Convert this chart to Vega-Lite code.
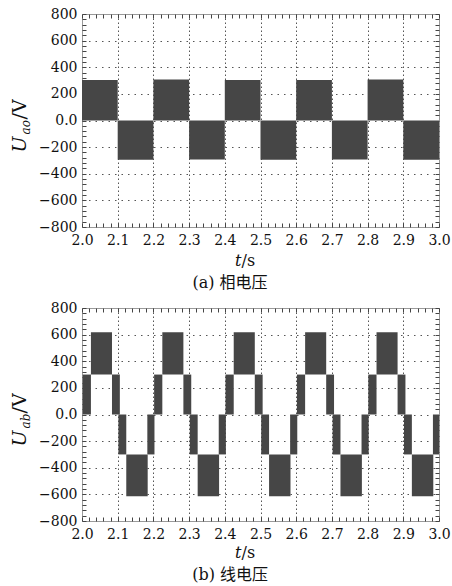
{
  "$schema": "https://vega.github.io/schema/vega-lite/v6.json",
  "padding": {"left": 9, "top": 6, "right": 0, "bottom": 0},
  "spacing": 8,
  "config": {
    "font": "DejaVu Serif",
    "view": {"stroke": "#9a9a9a", "strokeWidth": 1},
    "axis": {
      "labelFont": "DejaVu Serif", "labelFontSize": 14, "labelColor": "#111",
      "titleFont": "DejaVu Serif", "titleFontSize": 16, "titleColor": "#111", "titleFontWeight": "normal",
      "domain": false, "ticks": false, "grid": false, "labels": false,
      "tickColor": "#444", "tickSize": -4, "tickWidth": 1, "gridColor": "#555", "gridWidth": 1
    },
    "title": {"font": "DejaVu Serif, Noto Sans CJK SC", "fontSize": 16, "fontWeight": "normal", "color": "#111", "orient": "bottom", "anchor": "middle", "frame": "bounds", "offset": 7}
  },
  "datasets": {
    "phase": [
      {"t0": 2.0, "t1": 2.1, "v0": 0, "v1": 305},
      {"t0": 2.1, "t1": 2.2, "v0": -295, "v1": 0},
      {"t0": 2.2, "t1": 2.3, "v0": 0, "v1": 308},
      {"t0": 2.3, "t1": 2.4, "v0": -293, "v1": 0},
      {"t0": 2.4, "t1": 2.5, "v0": 0, "v1": 305},
      {"t0": 2.5, "t1": 2.6, "v0": -295, "v1": 0},
      {"t0": 2.6, "t1": 2.7, "v0": 0, "v1": 305},
      {"t0": 2.7, "t1": 2.8, "v0": -293, "v1": 0},
      {"t0": 2.8, "t1": 2.9, "v0": 0, "v1": 308},
      {"t0": 2.9, "t1": 3.0, "v0": -295, "v1": 0}
    ],
    "line": [
      {"t0": 2.002, "t1": 2.025, "v0": 0, "v1": 300},
      {"t0": 2.025, "t1": 2.084, "v0": 300, "v1": 618},
      {"t0": 2.084, "t1": 2.106, "v0": 0, "v1": 300},
      {"t0": 2.102, "t1": 2.124, "v0": -300, "v1": 0},
      {"t0": 2.124, "t1": 2.184, "v0": -615, "v1": -300},
      {"t0": 2.183, "t1": 2.203, "v0": -300, "v1": 0},
      {"t0": 2.202, "t1": 2.225, "v0": 0, "v1": 300},
      {"t0": 2.225, "t1": 2.284, "v0": 300, "v1": 618},
      {"t0": 2.284, "t1": 2.306, "v0": 0, "v1": 300},
      {"t0": 2.302, "t1": 2.324, "v0": -300, "v1": 0},
      {"t0": 2.324, "t1": 2.384, "v0": -615, "v1": -300},
      {"t0": 2.383, "t1": 2.403, "v0": -300, "v1": 0},
      {"t0": 2.402, "t1": 2.425, "v0": 0, "v1": 300},
      {"t0": 2.425, "t1": 2.484, "v0": 300, "v1": 618},
      {"t0": 2.484, "t1": 2.506, "v0": 0, "v1": 300},
      {"t0": 2.502, "t1": 2.524, "v0": -300, "v1": 0},
      {"t0": 2.524, "t1": 2.584, "v0": -615, "v1": -300},
      {"t0": 2.583, "t1": 2.603, "v0": -300, "v1": 0},
      {"t0": 2.602, "t1": 2.625, "v0": 0, "v1": 300},
      {"t0": 2.625, "t1": 2.684, "v0": 300, "v1": 618},
      {"t0": 2.684, "t1": 2.706, "v0": 0, "v1": 300},
      {"t0": 2.702, "t1": 2.724, "v0": -300, "v1": 0},
      {"t0": 2.724, "t1": 2.784, "v0": -615, "v1": -300},
      {"t0": 2.783, "t1": 2.803, "v0": -300, "v1": 0},
      {"t0": 2.802, "t1": 2.825, "v0": 0, "v1": 300},
      {"t0": 2.825, "t1": 2.884, "v0": 300, "v1": 618},
      {"t0": 2.884, "t1": 2.906, "v0": 0, "v1": 300},
      {"t0": 2.902, "t1": 2.924, "v0": -300, "v1": 0},
      {"t0": 2.924, "t1": 2.984, "v0": -615, "v1": -300},
      {"t0": 2.983, "t1": 3.0, "v0": -300, "v1": 0}
    ]
  },
  "vconcat": [
    {
      "width": 357, "height": 213,
      "title": {"text": "(a) 相电压"},
      "data": {"name": "phase"},
      "resolve": {"axis": {"x": "independent", "y": "independent"}},
      "layer": [
        {
          "mark": {"type": "rect", "color": "#464646"},
          "encoding": {
            "x": {"field": "t0", "type": "quantitative", "scale": {"domain": [2, 3], "nice": false, "zero": false},
              "axis": {"orient": "bottom", "values": [2.0, 2.1, 2.2, 2.3, 2.4, 2.5, 2.6, 2.7, 2.8, 2.9, 3.0], "grid": true, "gridDash": [1.5, 2.5],
                "gridOpacity": {"condition": {"test": "datum.value < 2.001 || datum.value > 2.999", "value": 0}, "value": 1},
                "labels": true, "format": ".1f", "labelPadding": 6, "labelFlush": false, "labelOverlap": false,
                "title": "t", "titleFontStyle": "italic", "titleAngle": 0, "titleAlign": "right", "titleBaseline": "alphabetic", "titleX": 159, "titleY": 38}},
            "x2": {"field": "t1"},
            "y": {"field": "v0", "type": "quantitative", "scale": {"domain": [-800, 800], "nice": false},
              "axis": {"orient": "left", "values": [-800, -600, -400, -200, 0, 200, 400, 600, 800], "grid": true, "gridDash": [1.5, 5],
                "gridOpacity": {"condition": {"test": "abs(datum.value) > 799", "value": 0}, "value": 1},
                "labels": true, "labelExpr": "datum.value == 0 ? '0.0' : format(datum.value, 'd')", "labelPadding": 5, "labelFlush": false, "labelOverlap": false,
                "title": "U", "titleFontStyle": "italic", "titleFontSize": 19, "titleAngle": 270, "titleAlign": "left", "titleBaseline": "alphabetic", "titleX": -57, "titleY": 138}},
            "y2": {"field": "v1"}
          }
        },
        {
          "mark": {"type": "rect", "opacity": 0},
          "encoding": {
            "x": {"field": "t0", "type": "quantitative",
              "axis": {"orient": "bottom", "ticks": true, "values": [2.0,2.02,2.04,2.06,2.08,2.1,2.12,2.14,2.16,2.18,2.2,2.22,2.24,2.26,2.28,2.3,2.32,2.34,2.36,2.38,2.4,2.42,2.44,2.46,2.48,2.5,2.52,2.54,2.56,2.58,2.6,2.62,2.64,2.66,2.68,2.7,2.72,2.74,2.76,2.78,2.8,2.82,2.84,2.86,2.88,2.9,2.92,2.94,2.96,2.98,3.0],
                "title": "/s", "titleAngle": 0, "titleAlign": "left", "titleBaseline": "alphabetic", "titleX": 159, "titleY": 38}},
            "x2": {"field": "t1"},
            "y": {"field": "v0", "type": "quantitative",
              "axis": {"orient": "left", "ticks": true, "values": [-800,-760,-720,-680,-640,-600,-560,-520,-480,-440,-400,-360,-320,-280,-240,-200,-160,-120,-80,-40,0,40,80,120,160,200,240,280,320,360,400,440,480,520,560,600,640,680,720,760,800],
                "title": "ao", "titleFontStyle": "italic", "titleFontSize": 12, "titleAngle": 270, "titleAlign": "left", "titleBaseline": "alphabetic", "titleX": -53, "titleY": 120}},
            "y2": {"field": "v1"}
          }
        },
        {
          "mark": {"type": "rect", "opacity": 0},
          "encoding": {
            "x": {"field": "t0", "type": "quantitative",
              "axis": {"orient": "top", "ticks": true, "title": null, "values": [2.0,2.02,2.04,2.06,2.08,2.1,2.12,2.14,2.16,2.18,2.2,2.22,2.24,2.26,2.28,2.3,2.32,2.34,2.36,2.38,2.4,2.42,2.44,2.46,2.48,2.5,2.52,2.54,2.56,2.58,2.6,2.62,2.64,2.66,2.68,2.7,2.72,2.74,2.76,2.78,2.8,2.82,2.84,2.86,2.88,2.9,2.92,2.94,2.96,2.98,3.0]}},
            "x2": {"field": "t1"},
            "y": {"field": "v0", "type": "quantitative",
              "axis": {"orient": "right", "ticks": true, "title": null, "values": [-800,-760,-720,-680,-640,-600,-560,-520,-480,-440,-400,-360,-320,-280,-240,-200,-160,-120,-80,-40,0,40,80,120,160,200,240,280,320,360,400,440,480,520,560,600,640,680,720,760,800]}},
            "y2": {"field": "v1"}
          }
        },
        {
          "mark": {"type": "rect", "opacity": 0},
          "encoding": {
            "x": {"field": "t0", "type": "quantitative", "axis": null},
            "x2": {"field": "t1"},
            "y": {"field": "v0", "type": "quantitative",
              "axis": {"orient": "left", "values": [0], "title": "/V", "titleFontSize": 19, "titleAngle": 270, "titleAlign": "left", "titleBaseline": "alphabetic", "titleX": -57, "titleY": 105}},
            "y2": {"field": "v1"}
          }
        }
      ]
    },
    {
      "width": 357, "height": 213,
      "title": {"text": "(b) 线电压"},
      "data": {"name": "line"},
      "resolve": {"axis": {"x": "independent", "y": "independent"}},
      "layer": [
        {
          "mark": {"type": "rect", "color": "#464646"},
          "encoding": {
            "x": {"field": "t0", "type": "quantitative", "scale": {"domain": [2, 3], "nice": false, "zero": false},
              "axis": {"orient": "bottom", "values": [2.0, 2.1, 2.2, 2.3, 2.4, 2.5, 2.6, 2.7, 2.8, 2.9, 3.0], "grid": true, "gridDash": [1.5, 2.5],
                "gridOpacity": {"condition": {"test": "datum.value < 2.001 || datum.value > 2.999", "value": 0}, "value": 1},
                "labels": true, "format": ".1f", "labelPadding": 6, "labelFlush": false, "labelOverlap": false,
                "title": "t", "titleFontStyle": "italic", "titleAngle": 0, "titleAlign": "right", "titleBaseline": "alphabetic", "titleX": 159, "titleY": 36}},
            "x2": {"field": "t1"},
            "y": {"field": "v0", "type": "quantitative", "scale": {"domain": [-800, 800], "nice": false},
              "axis": {"orient": "left", "values": [-800, -600, -400, -200, 0, 200, 400, 600, 800], "grid": true, "gridDash": [1.5, 5],
                "gridOpacity": {"condition": {"test": "abs(datum.value) > 799", "value": 0}, "value": 1},
                "labels": true, "labelExpr": "datum.value == 0 ? '0.0' : format(datum.value, 'd')", "labelPadding": 5, "labelFlush": false, "labelOverlap": false,
                "title": "U", "titleFontStyle": "italic", "titleFontSize": 19, "titleAngle": 270, "titleAlign": "left", "titleBaseline": "alphabetic", "titleX": -57, "titleY": 138}},
            "y2": {"field": "v1"}
          }
        },
        {
          "mark": {"type": "rect", "opacity": 0},
          "encoding": {
            "x": {"field": "t0", "type": "quantitative",
              "axis": {"orient": "bottom", "ticks": true, "values": [2.0,2.02,2.04,2.06,2.08,2.1,2.12,2.14,2.16,2.18,2.2,2.22,2.24,2.26,2.28,2.3,2.32,2.34,2.36,2.38,2.4,2.42,2.44,2.46,2.48,2.5,2.52,2.54,2.56,2.58,2.6,2.62,2.64,2.66,2.68,2.7,2.72,2.74,2.76,2.78,2.8,2.82,2.84,2.86,2.88,2.9,2.92,2.94,2.96,2.98,3.0],
                "title": "/s", "titleAngle": 0, "titleAlign": "left", "titleBaseline": "alphabetic", "titleX": 159, "titleY": 36}},
            "x2": {"field": "t1"},
            "y": {"field": "v0", "type": "quantitative",
              "axis": {"orient": "left", "ticks": true, "values": [-800,-760,-720,-680,-640,-600,-560,-520,-480,-440,-400,-360,-320,-280,-240,-200,-160,-120,-80,-40,0,40,80,120,160,200,240,280,320,360,400,440,480,520,560,600,640,680,720,760,800],
                "title": "ab", "titleFontStyle": "italic", "titleFontSize": 12, "titleAngle": 270, "titleAlign": "left", "titleBaseline": "alphabetic", "titleX": -53, "titleY": 120}},
            "y2": {"field": "v1"}
          }
        },
        {
          "mark": {"type": "rect", "opacity": 0},
          "encoding": {
            "x": {"field": "t0", "type": "quantitative",
              "axis": {"orient": "top", "ticks": true, "title": null, "values": [2.0,2.02,2.04,2.06,2.08,2.1,2.12,2.14,2.16,2.18,2.2,2.22,2.24,2.26,2.28,2.3,2.32,2.34,2.36,2.38,2.4,2.42,2.44,2.46,2.48,2.5,2.52,2.54,2.56,2.58,2.6,2.62,2.64,2.66,2.68,2.7,2.72,2.74,2.76,2.78,2.8,2.82,2.84,2.86,2.88,2.9,2.92,2.94,2.96,2.98,3.0]}},
            "x2": {"field": "t1"},
            "y": {"field": "v0", "type": "quantitative",
              "axis": {"orient": "right", "ticks": true, "title": null, "values": [-800,-760,-720,-680,-640,-600,-560,-520,-480,-440,-400,-360,-320,-280,-240,-200,-160,-120,-80,-40,0,40,80,120,160,200,240,280,320,360,400,440,480,520,560,600,640,680,720,760,800]}},
            "y2": {"field": "v1"}
          }
        },
        {
          "mark": {"type": "rect", "opacity": 0},
          "encoding": {
            "x": {"field": "t0", "type": "quantitative", "axis": null},
            "x2": {"field": "t1"},
            "y": {"field": "v0", "type": "quantitative",
              "axis": {"orient": "left", "values": [0], "title": "/V", "titleFontSize": 19, "titleAngle": 270, "titleAlign": "left", "titleBaseline": "alphabetic", "titleX": -57, "titleY": 105}},
            "y2": {"field": "v1"}
          }
        }
      ]
    }
  ]
}
